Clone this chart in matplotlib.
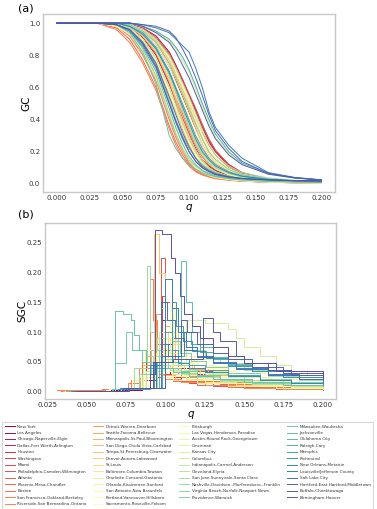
import numpy as np
import matplotlib
matplotlib.use("Agg")
import matplotlib.pyplot as plt

# city names, in legend order
cities = [
    "New York", "Los Angeles", "Chicago-Naperville-Elgin", "Dallas-Fort Worth-Arlington",
    "Houston", "Washington", "Miami", "Philadelphia-Camden-Wilmington", "Atlanta",
    "Phoenix-Mesa-Chandler", "Boston", "San Francisco-Oakland-Berkeley",
    "Riverside-San Bernardino-Ontario",
    "Detroit-Warren-Dearborn", "Seattle-Tacoma-Bellevue", "Minneapolis-St.Paul-Bloomington",
    "San Diego-Chula Vista-Carlsbad", "Tampa-St.Petersburg-Clearwater", "Denver-Aurora-Lakewood",
    "St.Louis", "Baltimore-Columbia-Towson", "Charlotte-Concord-Gastonia",
    "Orlando-Kissimmee-Sanford", "San Antonio-New Braunfels", "Portland-Vancouver-Hillsboro",
    "Sacramento-Roseville-Folsom",
    "Pittsburgh", "Las Vegas-Henderson-Paradise", "Austin-Round Rock-Georgetown", "Cincinnati",
    "Kansas City", "Columbus", "Indianapolis-Carmel-Anderson", "Cleveland-Elyria",
    "San Jose-Sunnyvale-Santa Clara", "Nashville-Davidson--Murfreesboro--Franklin",
    "Virginia Beach-Norfolk-Newport News", "Providence-Warwick",
    "Milwaukee-Waukesha", "Jacksonville", "Oklahoma City", "Raleigh-Cary", "Memphis",
    "Richmond", "New Orleans-Metairie", "Louisville/Jefferson County", "Salt Lake City",
    "Hartford-East Hartford-Middletown", "Buffalo-Cheektowaga", "Birmingham-Hoover",
]

# (a) giant component, sampled at these q values
gc_q = [0.0, 0.03, 0.045, 0.055, 0.065, 0.075, 0.085, 0.09, 0.095, 0.1,
        0.105, 0.11, 0.115, 0.12, 0.13, 0.14, 0.16, 0.18, 0.2]
gc_values = [
    [1, 1, 1, .98, .93, .83, .66, .55, .44, .33, .24, .17, .12, .085, .05, .034, .02, .012, .008],
    [1, 1, 1, .99, .97, .92, .82, .74, .65, .55, .45, .35, .26, .2, .12, .07, .03, .014, .008],
    [1, 1, 1, .97, .91, .8, .62, .52, .41, .31, .22, .15, .11, .08, .05, .033, .02, .013, .008],
    [1, 1, 1, .99, .95, .87, .73, .64, .54, .44, .34, .24, .17, .12, .07, .045, .025, .015, .01],
    [1, 1, 1, .99, .96, .9, .8, .72, .64, .55, .46, .36, .27, .2, .11, .065, .028, .012, .007],
    [1, 1, 1, .98, .93, .84, .67, .57, .46, .36, .26, .18, .13, .095, .055, .036, .021, .013, .009],
    [1, 1, 1, .99, .97, .91, .81, .73, .65, .56, .47, .37, .28, .21, .12, .07, .03, .013, .007],
    [1, 1, 1, .98, .92, .81, .63, .5, .38, .28, .2, .14, .1, .075, .045, .03, .018, .011, .007],
    [1, 1, 1, .98, .93, .83, .66, .56, .46, .36, .27, .2, .14, .1, .06, .038, .022, .014, .009],
    [1, 1, .97, .9, .77, .6, .36, .26, .18, .12, .08, .06, .045, .035, .025, .017, .01, .007, .005],
    [1, 1, .98, .92, .8, .64, .4, .29, .2, .13, .09, .065, .048, .037, .026, .018, .011, .007, .005],
    [1, 1, .96, .88, .75, .58, .34, .24, .16, .11, .075, .055, .042, .032, .022, .016, .01, .006, .004],
    [1, 1, 1, .99, .96, .89, .77, .68, .59, .5, .41, .32, .24, .18, .1, .06, .025, .011, .006],
    [1, 1, .99, .96, .88, .75, .55, .45, .34, .24, .16, .11, .08, .058, .037, .025, .015, .01, .006],
    [1, 1, 1, .98, .92, .82, .65, .54, .43, .33, .24, .17, .12, .09, .055, .036, .021, .014, .009],
    [1, 1, .98, .93, .81, .65, .42, .3, .21, .14, .095, .068, .05, .038, .026, .018, .011, .007, .005],
    [1, 1, 1, .99, .95, .88, .75, .66, .56, .46, .35, .25, .17, .12, .07, .045, .026, .016, .011],
    [1, 1, 1, .98, .92, .82, .64, .52, .4, .3, .21, .15, .1, .075, .045, .03, .018, .012, .008],
    [1, 1, 1, .99, .96, .89, .77, .68, .58, .48, .38, .28, .19, .13, .08, .05, .028, .017, .012],
    [1, 1, .99, .97, .89, .76, .56, .45, .35, .25, .17, .12, .085, .062, .04, .027, .016, .01, .007],
    [1, 1, 1, .98, .93, .84, .68, .58, .47, .36, .26, .18, .13, .095, .058, .038, .022, .014, .009],
    [1, 1, 1, .99, .96, .9, .78, .7, .6, .5, .4, .29, .2, .14, .085, .054, .03, .018, .013],
    [1, 1, .98, .93, .82, .66, .43, .32, .22, .15, .1, .07, .052, .04, .027, .019, .011, .007, .005],
    [1, 1, 1, .98, .93, .83, .66, .55, .45, .35, .25, .18, .13, .095, .058, .038, .022, .014, .009],
    [1, 1, .99, .97, .9, .78, .58, .47, .36, .26, .18, .13, .09, .066, .042, .028, .017, .011, .007],
    [1, 1, 1, .99, .95, .87, .73, .63, .53, .43, .33, .24, .17, .12, .075, .048, .027, .017, .012],
    [1, 1, 1, .98, .93, .84, .69, .59, .49, .38, .28, .2, .14, .1, .062, .04, .023, .015, .01],
    [1, 1, .98, .94, .83, .68, .45, .34, .24, .16, .11, .075, .055, .042, .028, .02, .012, .008, .006],
    [1, 1, 1, .99, .96, .9, .79, .71, .62, .52, .42, .31, .22, .16, .095, .06, .033, .02, .014],
    [1, 1, .99, .97, .9, .78, .59, .48, .37, .27, .19, .13, .095, .07, .045, .03, .018, .012, .008],
    [1, 1, 1, .98, .94, .85, .7, .6, .5, .39, .29, .21, .15, .11, .068, .044, .025, .016, .011],
    [1, 1, 1, 1, .98, .95, .89, .84, .77, .69, .59, .48, .38, .29, .19, .12, .06, .035, .024],
    [1, 1, 1, .98, .93, .83, .67, .57, .46, .36, .26, .19, .14, .1, .062, .04, .023, .015, .01],
    [1, 1, .99, .97, .9, .78, .6, .49, .38, .28, .2, .14, .1, .075, .048, .032, .019, .013, .009],
    [1, 1, 1, .99, .96, .9, .8, .72, .63, .54, .44, .34, .25, .18, .11, .07, .037, .022, .016],
    [1, 1, 1, .98, .93, .84, .68, .57, .46, .35, .25, .18, .13, .1, .065, .043, .025, .016, .011],
    [1, 1, .99, .95, .84, .67, .43, .31, .22, .15, .11, .08, .06, .047, .033, .024, .015, .011, .009],
    [1, 1, 1, .99, .95, .88, .75, .66, .56, .47, .37, .28, .2, .15, .09, .058, .032, .02, .014],
    [1, 1, .99, .96, .88, .74, .52, .4, .3, .22, .16, .12, .09, .07, .047, .032, .02, .014, .01],
    [1, 1, .99, .94, .82, .62, .3, .22, .16, .12, .09, .07, .055, .045, .032, .024, .015, .011, .009],
    [1, 1, .99, .95, .85, .7, .47, .35, .25, .17, .12, .085, .065, .05, .038, .03, .022, .018, .016],
    [1, 1, 1, 1, .98, .95, .9, .85, .79, .71, .61, .5, .4, .31, .2, .13, .065, .038, .025],
    [1, 1, 1, .98, .94, .85, .7, .6, .5, .4, .3, .22, .16, .12, .075, .05, .028, .018, .013],
    [1, 1, .99, .95, .86, .72, .5, .38, .28, .2, .14, .1, .078, .06, .043, .033, .024, .02, .018],
    [1, 1, 1, .98, .93, .84, .69, .59, .48, .38, .28, .2, .15, .11, .07, .047, .027, .018, .013],
    [1, 1, 1, 1, .99, .97, .94, .9, .86, .82, .72, .6, .45, .35, .24, .16, .07, .04, .025],
    [1, 1, .99, .96, .88, .75, .54, .43, .32, .23, .16, .11, .083, .064, .045, .034, .025, .02, .018],
    [1, 1, 1, 1, .99, .98, .95, .91, .84, .76, .66, .55, .43, .33, .22, .14, .065, .038, .024],
    [1, 1, 1, 1, .98, .94, .88, .82, .74, .66, .56, .46, .36, .28, .18, .12, .06, .036, .024],
    [1, 1, .99, .96, .87, .73, .5, .39, .29, .2, .14, .1, .075, .058, .042, .033, .025, .021, .019],
]

# (b) second giant component: (q, value) steps per city
sgc_steps = [
    [(.036, .001), (.065, .003), (.085, .02), (.095, .045), (.1, .07), (.103, .03), (.11, .02), (.12, .014), (.14, .009), (.16, .006), (.18, .004), (.2, .003)],
    [(.04, .001), (.07, .004), (.088, .03), (.097, .12), (.1, .08), (.104, .05), (.11, .035), (.12, .025), (.135, .015), (.155, .01), (.18, .006), (.2, .004)],
    [(.038, .001), (.068, .004), (.09, .025), (.1, .09), (.104, .06), (.108, .04), (.115, .03), (.125, .02), (.14, .013), (.16, .009), (.18, .006), (.2, .005)],
    [(.04, .001), (.072, .005), (.085, .03), (.092, .05), (.097, .04), (.105, .03), (.115, .02), (.13, .014), (.15, .009), (.175, .006), (.2, .004)],
    [(.037, .001), (.066, .004), (.08, .02), (.088, .06), (.093, .04), (.1, .025), (.11, .018), (.125, .012), (.145, .008), (.17, .005), (.2, .003)],
    [(.042, .001), (.07, .005), (.09, .03), (.098, .16), (.1, .1), (.105, .06), (.11, .045), (.118, .035), (.13, .025), (.15, .015), (.175, .009), (.2, .006)],
    [(.035, .001), (.068, .004), (.087, .025), (.094, .05), (.1, .03), (.106, .02), (.115, .015), (.13, .01), (.15, .007), (.175, .005), (.2, .003)],
    [(.04, .001), (.07, .004), (.09, .03), (.097, .225), (.1, .15), (.103, .09), (.108, .05), (.115, .035), (.125, .025), (.14, .016), (.16, .011), (.18, .008), (.2, .006)],
    [(.042, .001), (.072, .005), (.092, .04), (.1, .07), (.106, .05), (.11, .03), (.12, .02), (.135, .013), (.155, .009), (.18, .006), (.2, .004)],
    [(.031, .002), (.06, .004), (.078, .02), (.085, .05), (.09, .035), (.096, .025), (.105, .018), (.12, .012), (.14, .008), (.17, .005), (.2, .004)],
    [(.034, .001), (.065, .004), (.085, .03), (.093, .08), (.097, .05), (.103, .035), (.11, .025), (.12, .018), (.14, .012), (.16, .008), (.18, .006), (.2, .005)],
    [(.032, .002), (.06, .004), (.076, .015), (.083, .04), (.09, .19), (.092, .12), (.095, .07), (.1, .045), (.108, .03), (.12, .02), (.14, .013), (.16, .009), (.2, .005)],
    [(.033, .002), (.062, .004), (.078, .02), (.086, .045), (.092, .03), (.1, .022), (.11, .016), (.125, .011), (.15, .007), (.175, .005), (.2, .004)],
    [(.036, .001), (.066, .004), (.084, .025), (.094, .13), (.097, .08), (.1, .05), (.106, .035), (.115, .025), (.13, .017), (.15, .011), (.175, .007), (.2, .005)],
    [(.04, .001), (.07, .005), (.09, .035), (.1, .11), (.103, .07), (.108, .05), (.115, .038), (.125, .028), (.14, .018), (.16, .012), (.18, .008), (.2, .006)],
    [(.035, .001), (.064, .004), (.08, .02), (.087, .06), (.092, .04), (.098, .028), (.106, .02), (.12, .014), (.14, .009), (.17, .006), (.2, .004)],
    [(.038, .001), (.068, .004), (.086, .03), (.095, .09), (.099, .06), (.104, .04), (.11, .03), (.12, .022), (.135, .015), (.155, .01), (.18, .007), (.2, .005)],
    [(.04, .001), (.07, .005), (.09, .035), (.0925, .265), (.096, .2), (.1, .12), (.104, .08), (.11, .055), (.118, .04), (.13, .028), (.15, .018), (.175, .012), (.2, .008)],
    [(.042, .001), (.072, .005), (.092, .04), (.102, .1), (.106, .07), (.11, .05), (.117, .04), (.127, .03), (.14, .02), (.16, .013), (.18, .009), (.2, .007)],
    [(.037, .001), (.067, .004), (.086, .025), (.094, .06), (.099, .04), (.105, .03), (.113, .022), (.125, .016), (.145, .011), (.17, .007), (.2, .005)],
    [(.04, .001), (.07, .005), (.089, .03), (.096, .1), (.1, .065), (.104, .045), (.11, .035), (.12, .026), (.135, .018), (.155, .012), (.18, .008), (.2, .006)],
    [(.043, .001), (.073, .006), (.094, .045), (.104, .12), (.107, .08), (.112, .06), (.12, .045), (.13, .035), (.145, .024), (.165, .016), (.185, .011), (.2, .009)],
    [(.036, .001), (.064, .004), (.079, .02), (.086, .05), (.091, .035), (.097, .025), (.105, .02), (.12, .014), (.14, .009), (.17, .006), (.2, .004)],
    [(.04, .001), (.07, .005), (.09, .035), (.097, .14), (.1, .09), (.104, .065), (.11, .048), (.118, .036), (.13, .026), (.15, .017), (.175, .011), (.2, .008)],
    [(.038, .001), (.068, .004), (.087, .03), (.095, .07), (.1, .05), (.106, .036), (.113, .027), (.125, .02), (.14, .014), (.16, .01), (.18, .007), (.2, .006)],
    [(.042, .001), (.072, .005), (.093, .04), (.103, .15), (.106, .1), (.11, .07), (.116, .05), (.125, .04), (.14, .028), (.16, .018), (.18, .012), (.2, .009)],
    [(.04, .001), (.07, .005), (.089, .035), (.097, .08), (.101, .055), (.106, .042), (.113, .033), (.124, .025), (.14, .018), (.16, .012), (.18, .009), (.2, .007)],
    [(.036, .001), (.065, .004), (.08, .025), (.087, .07), (.091, .05), (.097, .035), (.104, .027), (.115, .02), (.13, .014), (.15, .01), (.175, .007), (.2, .005)],
    [(.043, .001), (.073, .006), (.095, .05), (.105, .13), (.108, .09), (.113, .07), (.12, .055), (.13, .043), (.145, .032), (.165, .022), (.185, .015), (.2, .012)],
    [(.038, .001), (.068, .004), (.086, .03), (.094, .065), (.099, .045), (.105, .035), (.112, .028), (.124, .021), (.14, .015), (.16, .011), (.18, .008), (.2, .007)],
    [(.041, .001), (.071, .005), (.09, .035), (.099, .09), (.103, .065), (.108, .05), (.115, .04), (.125, .032), (.14, .024), (.16, .016), (.18, .012), (.2, .009)],
    [(.044, .001), (.074, .006), (.095, .05), (.113, .12), (.125, .115), (.14, .105), (.145, .09), (.15, .075), (.16, .06), (.17, .045), (.18, .035), (.19, .028), (.2, .024)],
    [(.04, .001), (.07, .005), (.088, .035), (.096, .09), (.1, .06), (.105, .045), (.112, .036), (.122, .028), (.135, .021), (.155, .015), (.18, .011), (.2, .009)],
    [(.038, .001), (.068, .004), (.085, .03), (.092, .06), (.097, .045), (.103, .036), (.11, .03), (.12, .024), (.135, .018), (.155, .013), (.18, .01), (.2, .008)],
    [(.045, .001), (.075, .006), (.095, .05), (.108, .1), (.111, .085), (.117, .07), (.125, .058), (.135, .048), (.15, .036), (.165, .026), (.185, .019), (.2, .016)],
    [(.042, .001), (.072, .005), (.08, .04), (.0883, .212), (.09, .1), (.094, .07), (.1, .055), (.108, .045), (.118, .036), (.13, .028), (.15, .02), (.175, .014), (.2, .011)],
    [(.039, .001), (.067, .005), (.083, .03), (.091, .07), (.096, .05), (.102, .04), (.11, .032), (.12, .026), (.135, .02), (.155, .014), (.18, .011), (.2, .009)],
    [(.043, .001), (.073, .006), (.092, .045), (.1, .12), (.104, .085), (.109, .065), (.116, .052), (.126, .042), (.14, .032), (.16, .022), (.18, .016), (.2, .013)],
    [(.041, .001), (.067, .005), (.068, .048), (.075, .1), (.079, .07), (.085, .05), (.092, .045), (.1, .04), (.11, .034), (.12, .028), (.135, .022), (.155, .016), (.18, .012), (.2, .01)],
    [(.037, .001), (.066, .005), (.068, .135), (.073, .13), (.078, .12), (.08, .095), (.083, .07), (.088, .05), (.095, .04), (.105, .033), (.115, .027), (.13, .021), (.15, .016), (.175, .012), (.2, .01)],
    [(.045, .001), (.075, .006), (.096, .05), (.11, .22), (.113, .15), (.117, .1), (.122, .075), (.13, .058), (.14, .046), (.155, .034), (.175, .024), (.2, .018)],
    [(.046, .001), (.076, .007), (.098, .06), (.112, .1), (.116, .08), (.122, .066), (.13, .055), (.14, .045), (.155, .034), (.175, .025), (.2, .019)],
    [(.04, .001), (.07, .005), (.09, .04), (.1, .1), (.104, .07), (.108, .055), (.115, .045), (.125, .037), (.14, .028), (.16, .02), (.18, .015), (.2, .012)],
    [(.044, .001), (.074, .006), (.093, .05), (.104, .15), (.107, .11), (.111, .085), (.117, .068), (.126, .056), (.14, .044), (.155, .034), (.175, .025), (.2, .019)],
    [(.041, .001), (.071, .006), (.09, .045), (.097, .08), (.102, .06), (.108, .048), (.115, .04), (.125, .033), (.14, .026), (.16, .019), (.18, .015), (.2, .013)],
    [(.046, .001), (.076, .007), (.097, .06), (.1, .19), (.104, .14), (.108, .1), (.113, .075), (.12, .06), (.13, .05), (.145, .04), (.165, .03), (.185, .022), (.2, .019)],
    [(.045, .001), (.075, .006), (.094, .05), (.097, .15), (.101, .12), (.106, .09), (.112, .07), (.12, .058), (.13, .048), (.145, .038), (.165, .028), (.185, .021), (.2, .017)],
    [(.047, .001), (.077, .007), (.1, .06), (.11, .12), (.114, .1), (.12, .08), (.13, .065), (.14, .055), (.155, .042), (.175, .031), (.2, .022)],
    [(.043, .001), (.073, .006), (.092, .05), (.105, .055), (.124, .124), (.13, .1), (.135, .085), (.145, .06), (.15, .048), (.165, .036), (.18, .028), (.2, .023)],
    [(.045, .001), (.075, .006), (.09, .03), (.0937, .271), (.098, .265), (.1035, .225), (.106, .2), (.109, .16), (.112, .13), (.117, .11), (.122, .09), (.13, .075), (.14, .06), (.15, .048), (.17, .034), (.2, .022)],
]

a_ticks = [0.0, 0.025, 0.05, 0.075, 0.1, 0.125, 0.15, 0.175, 0.2]
b_ticks = [0.025, 0.05, 0.075, 0.1, 0.125, 0.15, 0.175, 0.2]

colors = plt.cm.Spectral(np.linspace(0, 1, len(cities)))

fig = plt.figure(figsize=(3.77, 5.09), dpi=100)
ax1 = fig.add_axes([0.114, 0.623, 0.775, 0.35])
ax2 = fig.add_axes([0.1194, 0.2161, 0.772, 0.3464])

lines = []
for i, name in enumerate(cities):
    ln, = ax1.plot(gc_q, gc_values[i], color=colors[i], lw=0.7, label=name)
    lines.append(ln)
    q, v = zip(*sgc_steps[i])
    ax2.plot(q, v, color=colors[i], lw=0.7, drawstyle="steps-post")

ax1.set_xlim(-0.0105, 0.2105)
ax1.set_ylim(-0.05, 1.058)
ax1.set_xticks(a_ticks)
ax1.set_xticklabels([f"{t:.3f}" for t in a_ticks])
ax1.set_yticks([0.0, 0.2, 0.4, 0.6, 0.8, 1.0])
ax1.set_ylabel("GC", fontsize=7.5)
ax1.yaxis.set_label_coords(-0.041, 0.5)
ax1.set_xlabel("q", fontsize=7.5, style="italic", labelpad=1)

ax2.set_xlim(0.0236, 0.2084)
ax2.set_ylim(-0.0123, 0.284)
ax2.set_xticks(b_ticks)
ax2.set_xticklabels([f"{t:.3f}" for t in b_ticks])
ax2.set_yticks([0.0, 0.05, 0.1, 0.15, 0.2, 0.25])
ax2.set_yticklabels(["0.00", "0.05", "0.10", "0.15", "0.20", "0.25"])
ax2.set_ylabel("SGC", fontsize=7.5)
ax2.yaxis.set_label_coords(-0.062, 0.5)
ax2.set_xlabel("q", fontsize=7.5, style="italic", labelpad=1)

for ax in (ax1, ax2):
    ax.tick_params(length=0, labelsize=5, pad=2, colors="#333333")
    for s in ax.spines.values():
        s.set_color("#c8c8c8")
        s.set_linewidth(1.0)

fig.text(0.048, 0.984, "(a)", fontsize=8, va="center", ha="left")
fig.text(0.048, 0.578, "(b)", fontsize=8, va="center", ha="left")

leg = fig.legend(handles=lines, loc="upper left", bbox_to_anchor=(0.0, 0.0, 0.995, 0.175),
                 mode="expand", ncol=4, fontsize=3.0, labelspacing=0.59,
                 handlelength=2.4, handletextpad=0.7, borderpad=0.6,
                 fancybox=False, edgecolor="#cccccc", framealpha=1)
leg.get_frame().set_linewidth(0.6)
for t in leg.get_texts():
    t.set_color("#333333")

fig.savefig("out.png", dpi=100)
